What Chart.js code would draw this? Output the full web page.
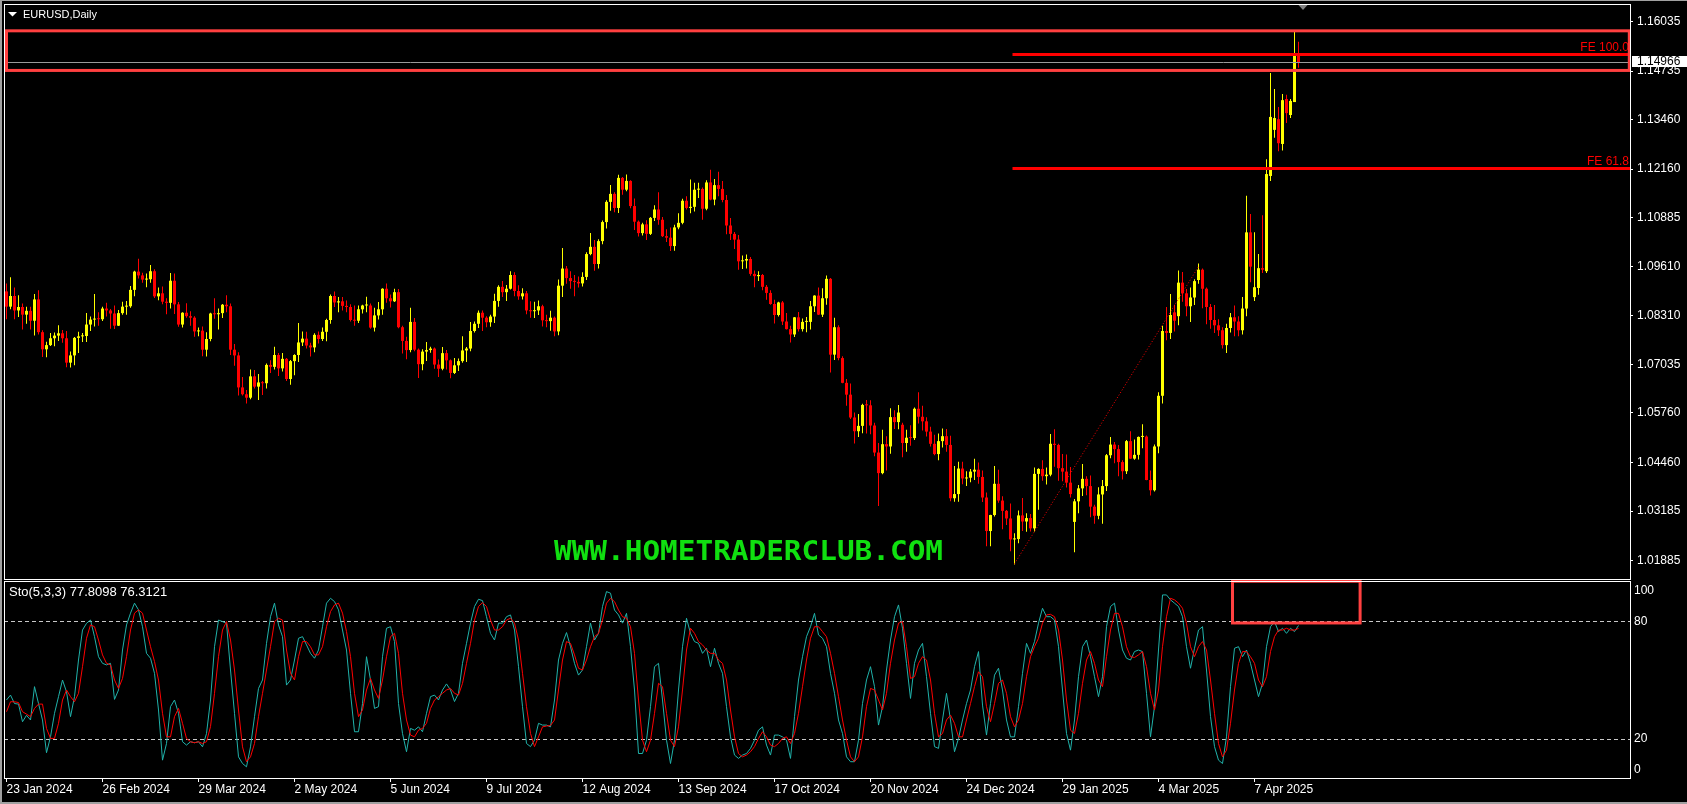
<!DOCTYPE html>
<html>
<head>
<meta charset="utf-8">
<title>EURUSD, Daily</title>
<script src="https://cdn.jsdelivr.net/npm/chart.js@4.4.1/dist/chart.umd.min.js"></script>
<style>
  html, body { margin: 0; padding: 0; background: #000; overflow: hidden; }
  #wrap { position: relative; width: 1687px; height: 804px; background: #000; }
  #mainChart { position: absolute; left: 0; top: 0; }
  #stoChart { position: absolute; left: 0; top: 580px; }
  .edge { position: absolute; background: #a0a0a0; }
</style>
</head>
<body>
<div id="wrap">
  <canvas id="mainChart" width="1687" height="580"></canvas>
  <canvas id="stoChart" width="1687" height="224"></canvas>
  <div class="edge" style="left:0;top:0;width:1687px;height:1px"></div>
  <div class="edge" style="left:0;top:0;width:2px;height:804px"></div>
  <div class="edge" style="left:0;top:802px;width:1687px;height:2px"></div>
</div>
<script>
// EURUSD daily candles, 23 Jan 2024 .. 22 Apr 2025 (index 0 = 23 Jan 2024)
const OPEN = [
  1.0895,1.0855,1.0883,1.0845,1.0854,1.0834,1.0844,1.0818,1.0874,1.0788,
  1.0743,1.0754,1.0772,1.0779,1.0785,1.0772,1.0708,1.0727,1.0773,1.0777,
  1.0778,1.0808,1.0821,1.0823,1.0822,1.0850,1.0845,1.0837,1.0805,1.0838,
  1.0855,1.0856,1.0899,1.0947,1.0937,1.0926,1.0927,1.0948,1.0882,1.0890,
  1.0868,1.0865,1.0923,1.0861,1.0808,1.0839,1.0830,1.0826,1.0790,1.0792,
  1.0742,1.0770,1.0837,1.0835,1.0838,1.0860,1.0856,1.0742,1.0727,1.0643,
  1.0625,1.0616,1.0672,1.0645,1.0656,1.0654,1.0702,1.0697,1.0728,1.0693,
  1.0718,1.0665,1.0712,1.0728,1.0761,1.0771,1.0753,1.0748,1.0781,1.0770,
  1.0789,1.0820,1.0883,1.0866,1.0869,1.0857,1.0854,1.0820,1.0818,1.0848,
  1.0858,1.0858,1.0800,1.0832,1.0848,1.0902,1.0877,1.0869,1.0893,1.0801,
  1.0765,1.0741,1.0815,1.0742,1.0704,1.0737,1.0741,1.0745,1.0703,1.0692,
  1.0733,1.0714,1.0681,1.0701,1.0712,1.0740,1.0745,1.0791,1.0810,1.0839,
  1.0826,1.0814,1.0829,1.0870,1.0907,1.0893,1.0902,1.0938,1.0896,1.0882,
  1.0890,1.0845,1.0843,1.0845,1.0856,1.0819,1.0817,1.0826,1.0790,1.0910,
  1.0955,1.0930,1.0922,1.0920,1.0916,1.0933,1.0993,1.1012,1.0967,1.1027,
  1.1077,1.1130,1.1151,1.1114,1.1193,1.1162,1.1185,1.1119,1.1078,1.1048,
  1.1071,1.1046,1.1088,1.1110,1.1083,1.1040,1.1036,1.1014,1.1063,1.1075,
  1.1133,1.1114,1.1117,1.1162,1.1164,1.1112,1.1181,1.1136,1.1174,1.1164,
  1.1135,1.1068,1.1046,1.1031,1.0974,1.0976,1.0980,1.0941,1.0935,1.0938,
  1.0907,1.0891,1.0862,1.0833,1.0866,1.0816,1.0796,1.0782,1.0827,1.0796,
  1.0815,1.0815,1.0856,1.0884,1.0834,1.0877,1.0928,1.0729,1.0801,1.0720,
  1.0655,1.0624,1.0564,1.0528,1.0542,1.0597,1.0596,1.0543,1.0472,1.0418,
  1.0494,1.0488,1.0565,1.0552,1.0545,1.0497,1.0511,1.0510,1.0587,1.0566,
  1.0554,1.0527,1.0495,1.0468,1.0502,1.0515,1.0492,1.0352,1.0363,1.0430,
  1.0404,1.0406,1.0422,1.0427,1.0408,1.0354,1.0266,1.0308,1.0390,1.0346,
  1.0319,1.0299,1.0244,1.0245,1.0307,1.0291,1.0300,1.0273,1.0416,1.0429,
  1.0410,1.0414,1.0495,1.0492,1.0431,1.0422,1.0393,1.0290,1.0344,1.0378,
  1.0403,1.0384,1.0330,1.0306,1.0362,1.0384,1.0465,1.0493,1.0481,1.0447,
  1.0423,1.0502,1.0456,1.0466,1.0513,1.0514,1.0400,1.0373,1.0488,1.0621,
  1.0791,1.0786,1.0840,1.0830,1.0918,1.0890,1.0856,1.0879,1.0925,1.0952,
  1.0902,1.0854,1.0820,1.0806,1.0793,1.0754,1.0799,1.0827,1.0816,1.0793,
  1.0850,1.1050,1.0880,1.0904,1.0956,1.0948,1.1198,1.1319,1.1347,1.1282,
  1.1400,1.1358,1.1392,1.1515
];
const HIGH = [
  1.0916,1.0932,1.0905,1.0885,1.0863,1.0855,1.0855,1.0888,1.0898,1.0793,
  1.0763,1.0786,1.0787,1.0806,1.0794,1.0791,1.0737,1.0775,1.0789,1.0786,
  1.0838,1.0829,1.0888,1.0840,1.0855,1.0865,1.0849,1.0858,1.0846,1.0868,
  1.0870,1.0909,1.0949,1.0981,1.0944,1.0942,1.0964,1.0953,1.0905,1.0908,
  1.0877,1.0943,1.0942,1.0867,1.0840,1.0864,1.0843,1.0830,1.0800,1.0803,
  1.0788,1.0839,1.0877,1.0850,1.0862,1.0885,1.0863,1.0757,1.0735,1.0670,
  1.0636,1.0690,1.0689,1.0678,1.0660,1.0706,1.0714,1.0750,1.0733,1.0733,
  1.0720,1.0715,1.0730,1.0812,1.0790,1.0789,1.0760,1.0785,1.0790,1.0800,
  1.0823,1.0887,1.0895,1.0880,1.0880,1.0871,1.0861,1.0858,1.0858,1.0860,
  1.0881,1.0863,1.0852,1.0867,1.0903,1.0916,1.0887,1.0902,1.0901,1.0805,
  1.0776,1.0852,1.0825,1.0745,1.0743,1.0762,1.0750,1.0748,1.0716,1.0749,
  1.0741,1.0716,1.0720,1.0719,1.0777,1.0749,1.0815,1.0816,1.0845,1.0845,
  1.0830,1.0834,1.0889,1.0911,1.0922,1.0912,1.0948,1.0945,1.0911,1.0903,
  1.0896,1.0869,1.0868,1.0871,1.0860,1.0834,1.0844,1.0829,1.0926,1.1009,
  1.0962,1.0948,1.0938,1.0934,1.0945,1.0998,1.1048,1.1030,1.1032,1.1081,
  1.1134,1.1174,1.1155,1.1201,1.1195,1.1202,1.1187,1.1139,1.1081,1.1075,
  1.1082,1.1090,1.1121,1.1155,1.1090,1.1058,1.1063,1.1070,1.1100,1.1138,
  1.1145,1.1189,1.1180,1.1180,1.1168,1.1187,1.1214,1.1190,1.1209,1.1185,
  1.1148,1.1088,1.1051,1.1043,1.0989,1.0992,1.0985,1.0950,1.0948,1.0941,
  1.0912,1.0898,1.0873,1.0868,1.0870,1.0838,1.0805,1.0828,1.0841,1.0824,
  1.0828,1.0870,1.0885,1.0905,1.0903,1.0937,1.0930,1.0826,1.0806,1.0725,
  1.0665,1.0653,1.0577,1.0573,1.0600,1.0610,1.0609,1.0550,1.0497,1.0532,
  1.0515,1.0588,1.0583,1.0597,1.0550,1.0532,1.0544,1.0590,1.0630,1.0595,
  1.0565,1.0540,1.0519,1.0522,1.0535,1.0534,1.0516,1.0437,1.0448,1.0448,
  1.0423,1.0429,1.0456,1.0446,1.0425,1.0367,1.0309,1.0437,1.0427,1.0357,
  1.0321,1.0338,1.0260,1.0320,1.0353,1.0313,1.0311,1.0433,1.0431,1.0452,
  1.0433,1.0521,1.0533,1.0495,1.0468,1.0467,1.0434,1.0350,1.0387,1.0442,
  1.0410,1.0412,1.0335,1.0381,1.0400,1.0468,1.0513,1.0500,1.0492,1.0452,
  1.0505,1.0528,1.0506,1.0514,1.0546,1.0517,1.0425,1.0493,1.0630,1.0805,
  1.0854,1.0888,1.0860,1.0950,1.0946,1.0901,1.0905,1.0927,1.0968,1.0955,
  1.0905,1.0862,1.0859,1.0822,1.0801,1.0810,1.0838,1.0858,1.0830,1.0880,
  1.1146,1.1098,1.1050,1.0993,1.1095,1.1242,1.1468,1.1426,1.1379,1.1413,
  1.1411,1.1400,1.1576,1.1550
];
const LOW = [
  1.0822,1.0848,1.0822,1.0828,1.0795,1.0810,1.0795,1.0779,1.0782,1.0723,
  1.0722,1.0752,1.0751,1.0765,1.0760,1.0696,1.0695,1.0701,1.0733,1.0762,
  1.0762,1.0791,1.0803,1.0805,1.0817,1.0829,1.0797,1.0796,1.0804,1.0834,
  1.0834,1.0852,1.0882,1.0929,1.0918,1.0906,1.0918,1.0878,1.0872,1.0861,
  1.0835,1.0850,1.0836,1.0802,1.0800,1.0826,1.0805,1.0776,1.0777,1.0725,
  1.0724,1.0764,1.0823,1.0795,1.0825,1.0840,1.0728,1.0700,1.0622,1.0622,
  1.0601,1.0612,1.0640,1.0610,1.0623,1.0640,1.0681,1.0690,1.0673,1.0685,
  1.0660,1.0650,1.0675,1.0710,1.0752,1.0745,1.0724,1.0735,1.0758,1.0765,
  1.0764,1.0810,1.0854,1.0840,1.0845,1.0840,1.0816,1.0805,1.0812,1.0837,
  1.0840,1.0797,1.0790,1.0821,1.0834,1.0865,1.0853,1.0867,1.0798,1.0732,
  1.0717,1.0735,1.0738,1.0668,1.0688,1.0712,1.0734,1.0692,1.0670,1.0688,
  1.0690,1.0667,1.0678,1.0686,1.0708,1.0710,1.0738,1.0787,1.0799,1.0791,
  1.0801,1.0802,1.0812,1.0855,1.0880,1.0870,1.0900,1.0882,1.0873,1.0874,
  1.0835,1.0826,1.0825,1.0833,1.0803,1.0801,1.0792,1.0777,1.0780,1.0880,
  1.0915,1.0902,1.0882,1.0905,1.0908,1.0925,1.0990,1.0949,1.0955,1.1019,
  1.1060,1.1107,1.1103,1.1101,1.1149,1.1158,1.1113,1.1056,1.1039,1.1042,
  1.1030,1.1043,1.1080,1.1070,1.1038,1.1025,1.1001,1.1002,1.1058,1.1071,
  1.1110,1.1100,1.1105,1.1140,1.1083,1.1108,1.1134,1.1121,1.1145,1.1129,
  1.1045,1.1030,1.1006,1.0952,1.0954,1.0955,1.0936,1.0906,1.0922,1.0898,
  1.0873,1.0860,1.0811,1.0829,1.0807,1.0795,1.0761,1.0775,1.0790,1.0790,
  1.0788,1.0795,1.0841,1.0833,1.0828,1.0860,1.0682,1.0715,1.0714,1.0654,
  1.0595,1.0560,1.0496,1.0513,1.0523,1.0522,1.0520,1.0462,1.0332,1.0415,
  1.0425,1.0469,1.0534,1.0533,1.0460,1.0474,1.0490,1.0505,1.0548,1.0530,
  1.0514,1.0488,1.0465,1.0452,1.0485,1.0474,1.0344,1.0343,1.0343,1.0389,
  1.0384,1.0394,1.0400,1.0390,1.0342,1.0226,1.0226,1.0304,1.0340,1.0271,
  1.0282,1.0213,1.0178,1.0234,1.0266,1.0264,1.0265,1.0265,1.0322,1.0398,
  1.0388,1.0410,1.0435,1.0398,1.0397,1.0380,1.0354,1.0210,1.0313,1.0358,
  1.0360,1.0302,1.0285,1.0297,1.0285,1.0371,1.0457,1.0444,1.0410,1.0401,
  1.0416,1.0455,1.0453,1.0454,1.0483,1.0399,1.0359,1.0370,1.0470,1.0601,
  1.0767,1.0770,1.0790,1.0806,1.0868,1.0830,1.0815,1.0859,1.0915,1.0851,
  1.0809,1.0797,1.0786,1.0778,1.0745,1.0733,1.0787,1.0777,1.0777,1.0782,
  1.0830,1.0919,1.0870,1.0886,1.0943,1.0943,1.1185,1.1298,1.1263,1.1265,
  1.1337,1.1350,1.1392,1.1482
];
const CLOSE = [
  1.0855,1.0883,1.0845,1.0854,1.0834,1.0844,1.0818,1.0874,1.0788,1.0743,
  1.0754,1.0772,1.0779,1.0785,1.0772,1.0708,1.0727,1.0773,1.0777,1.0778,
  1.0808,1.0821,1.0823,1.0822,1.0850,1.0845,1.0837,1.0805,1.0838,1.0855,
  1.0856,1.0899,1.0947,1.0937,1.0926,1.0927,1.0948,1.0882,1.0890,1.0868,
  1.0865,1.0923,1.0861,1.0808,1.0839,1.0830,1.0826,1.0790,1.0792,1.0742,
  1.0770,1.0837,1.0835,1.0838,1.0860,1.0856,1.0742,1.0727,1.0643,1.0625,
  1.0616,1.0672,1.0645,1.0656,1.0654,1.0702,1.0697,1.0728,1.0693,1.0718,
  1.0665,1.0712,1.0728,1.0761,1.0771,1.0753,1.0748,1.0781,1.0770,1.0789,
  1.0820,1.0883,1.0866,1.0869,1.0857,1.0854,1.0820,1.0818,1.0848,1.0858,
  1.0858,1.0800,1.0832,1.0848,1.0902,1.0877,1.0869,1.0893,1.0801,1.0765,
  1.0741,1.0815,1.0742,1.0704,1.0737,1.0741,1.0745,1.0703,1.0692,1.0733,
  1.0714,1.0681,1.0701,1.0712,1.0740,1.0745,1.0791,1.0810,1.0839,1.0826,
  1.0814,1.0829,1.0870,1.0907,1.0893,1.0902,1.0938,1.0896,1.0882,1.0890,
  1.0845,1.0843,1.0845,1.0856,1.0819,1.0817,1.0826,1.0790,1.0910,1.0955,
  1.0930,1.0922,1.0920,1.0916,1.0933,1.0993,1.1012,1.0967,1.1027,1.1077,
  1.1130,1.1151,1.1114,1.1193,1.1162,1.1185,1.1119,1.1078,1.1048,1.1071,
  1.1046,1.1088,1.1110,1.1083,1.1040,1.1036,1.1014,1.1063,1.1075,1.1133,
  1.1114,1.1117,1.1162,1.1164,1.1112,1.1181,1.1136,1.1174,1.1164,1.1135,
  1.1068,1.1046,1.1031,1.0974,1.0976,1.0980,1.0941,1.0935,1.0938,1.0907,
  1.0891,1.0862,1.0833,1.0866,1.0816,1.0796,1.0782,1.0827,1.0796,1.0815,
  1.0815,1.0856,1.0884,1.0834,1.0877,1.0928,1.0729,1.0801,1.0720,1.0655,
  1.0624,1.0564,1.0528,1.0542,1.0597,1.0596,1.0543,1.0472,1.0418,1.0494,
  1.0488,1.0565,1.0552,1.0577,1.0497,1.0511,1.0510,1.0587,1.0566,1.0554,
  1.0527,1.0495,1.0468,1.0502,1.0515,1.0492,1.0352,1.0363,1.0430,1.0404,
  1.0406,1.0422,1.0427,1.0408,1.0354,1.0266,1.0308,1.0390,1.0346,1.0319,
  1.0299,1.0244,1.0245,1.0307,1.0291,1.0300,1.0273,1.0416,1.0429,1.0410,
  1.0414,1.0495,1.0492,1.0431,1.0422,1.0393,1.0363,1.0344,1.0378,1.0403,
  1.0384,1.0330,1.0306,1.0362,1.0384,1.0465,1.0493,1.0481,1.0447,1.0423,
  1.0502,1.0456,1.0466,1.0513,1.0514,1.0400,1.0373,1.0488,1.0621,1.0791,
  1.0786,1.0833,1.0818,1.0918,1.0890,1.0856,1.0879,1.0922,1.0952,1.0902,
  1.0854,1.0820,1.0806,1.0793,1.0754,1.0799,1.0827,1.0816,1.0793,1.0850,
  1.1050,1.0960,1.0906,1.0956,1.0952,1.1203,1.1353,1.1350,1.1284,1.1397,
  1.1363,1.1395,1.1513,1.1497
];

// Stochastic(5,3,3): main (%K) and signal (%D)
const STO_K = [
  39.8,42.3,38,37.7,28.7,32,29.6,46.6,38,29.6,
  12.9,21,33,41.5,50,44,31.3,41.5,60.2,75.5,
  78.9,80.6,72.1,61.9,58.5,57.7,58.5,40.1,44.9,65.3,
  78.1,84.1,89.2,85.8,77.2,63.6,61.1,53.4,34.7,9.1,
  17.6,36.4,39.8,33,18.5,16.8,18.5,18,18.5,15.9,
  22.7,39.8,67,80.6,79.8,78.9,55.1,33,10.8,7.4,
  5.7,15.9,31.3,45.7,50,68.7,82.3,89.2,78.1,72.1,
  47.4,50,60.2,71.3,72.1,67.9,63.6,61.1,65.3,77.2,
  89.2,91.7,90,85.8,75.5,65.3,43.2,23.6,23.6,38,
  61.9,50,35.5,36.4,61.9,76.4,77.2,69.6,38,22.7,
  13.4,25.3,24.4,26.1,23.6,33,41.5,42.3,39.8,44.9,
  48,44.9,39,43.2,58.5,68.7,79,87.5,91.2,90.5,
  82.3,73.8,70.4,79,79,82.3,83.2,75.5,56.8,36.4,
  17.6,16,19.3,27.9,27,27,26.1,39.8,60.2,68.7,
  74.2,67,58.5,52.5,55.1,67,79,70.4,73.8,87.5,
  95.1,94.3,85.7,83.2,79,84,67,44.9,12.5,12.5,
  19.3,36.4,56.8,58.5,39.8,19.3,7.4,19.3,44.9,67,
  81.5,73.8,69.6,68.7,63.6,66.2,56.8,66.2,58.5,53.4,
  36.4,21,11.7,10,11.7,12.5,15.1,19.3,24.4,26.1,
  16.8,11.7,21.9,21.9,21,19.3,10,31.3,50,61.9,
  72.1,77.2,84,73,71.3,67,53.4,43.2,29.6,22.7,
  10.8,8.3,8.3,19.3,38,50,56.8,46.6,27,36.4,
  55.1,70.4,82.3,88.3,76.4,58.5,40.6,58.5,65.3,68.7,
  51.7,33,16,15.1,29.6,43.2,29.6,13.4,20.2,29.6,
  38,44.9,56.8,64.5,37.2,21.9,38,52.5,56,44.9,
  29.6,21,21,36.4,53.4,68.7,63.6,69.6,79,86.6,
  82.3,82.3,80.6,67,44.9,22.7,14.2,29.6,51.7,67,
  70.4,61.9,51.7,41.5,51.7,77.2,87.5,89.2,75.5,65.3,
  61.1,60.2,64.5,65.3,64.5,43.2,21,36.4,65.3,93.4,
  93.4,90.9,89.2,87.5,82.3,67,56,66.2,75.5,77.2,
  55.1,31.3,16,9.1,7.4,21,46.6,66.2,67,61.9,
  65.3,58.5,50,41.5,48.3,67,77.2,79.8,74.7,76.4,
  73.8,76.4,74.7,77.8098
];
const STO_D = [
  33.8,38.9,38.9,38.5,33.8,32.6,31.3,35.5,37.7,37.7,
  25.3,20.2,20.2,27.9,39.8,44.9,41.5,38.9,43.2,56.8,
  71.3,78.1,77.2,70.4,62.8,58.5,57.7,50,45.7,50.8,
  61.9,75.5,84.1,85.8,84.1,75.5,67,59.4,50,33,
  21,21,31.3,35.5,27.9,20.2,18.5,18,18.5,17.6,
  18.5,26.2,43.2,61.9,75.5,79.8,70.4,55.1,34.7,15.9,
  8.3,10.8,17.6,31.3,43.2,55.1,67,79.8,81.5,80.6,
  65.3,53.4,50,61.9,69.6,69.6,67,62.8,62.8,67,
  77.2,84.9,88.3,89.2,84.1,74.7,61.9,43.2,31.3,34.7,
  44.9,50.8,44.9,40.6,50,61.9,72.1,73.8,63.6,43.2,
  29.6,21.9,21,24.4,25.3,27.9,35.5,39.8,41.5,43.2,
  44.9,45.7,43.2,42.3,48.3,58.5,68.7,80.6,87.5,89.5,
  87.5,80.6,75.5,75.5,77.2,80.6,81.5,79,70.4,53.4,
  36.4,22.7,16,21,26.1,26.5,26.8,29.6,44.9,60.2,
  69.6,68.7,62.8,56,55.1,60.2,67,72.1,73.8,80.6,
  89.2,91.7,90,85.7,82.3,81.5,77.2,63.6,39.8,19.3,
  13.4,19.3,33,48.3,46.6,33,19.3,16,26.1,44.9,
  65.3,76.4,73.8,69.6,67.9,65.3,63.6,63.6,60.2,58.5,
  50,34.7,21,12.5,10.8,11.7,13.4,16,20.2,23.6,
  21,16.8,16,17.6,20.2,21,17.6,22.7,33,46.6,
  60.2,71.3,77.2,77.2,74.7,72.1,63.6,53.4,41.5,29.6,
  19.3,10.8,8.3,10.8,21,36.4,45.7,44.9,39.8,34.7,
  43.2,58.5,70.4,79,79.8,67,50.8,51.7,58.5,61.9,
  60.2,50,33,21,22.7,29.6,32.1,27.9,21,21,
  29.6,38,46.6,54.2,51.7,36.4,28.7,38,48.3,50,
  43.2,31.3,26.1,29.6,38,51.7,61.9,67,71.3,79,
  83.2,83.5,82.3,75.5,60.2,39.8,24.4,22.7,33,48.3,
  60.2,64.5,58.5,50,46.6,61.9,75.5,84,84,77.2,
  67,61.9,61.5,62.8,64.5,56.8,43.2,34.7,44.9,67,
  82.3,91.7,90.9,89.2,86.6,78.9,67,61.9,67,69.6,
  65.3,50,33,17.6,10.8,14.2,27.9,44.9,58.5,64.5,
  64.5,61.9,58.5,50,46.6,51.7,64.5,72.1,75.5,75.5,
  76.4,75.5,75.5,76.3121
];

const PRICE_TICKS = [1.16035, 1.14735, 1.13460, 1.12160, 1.10885, 1.09610, 1.08310,
                     1.07035, 1.05760, 1.04460, 1.03185, 1.01885];
const DATE_INDEX = [0, 24, 48, 72, 96, 120, 144, 168, 192, 216, 240, 264, 288, 312];
const DATE_LABELS = ['23 Jan 2024', '26 Feb 2024', '29 Mar 2024', '2 May 2024', '5 Jun 2024',
                     '9 Jul 2024', '12 Aug 2024', '13 Sep 2024', '17 Oct 2024', '20 Nov 2024',
                     '24 Dec 2024', '29 Jan 2025', '4 Mar 2025', '7 Apr 2025'];
const STO_TICKS = [100, 80, 20, 0];
const STO_LEVELS = [80, 20];
const LAST_PRICE = 1.14966;
const FE_LABELS = ['FE 100.0', 'FE 61.8'];
const FE_VALUES = [1.15182, 1.12189];
const FE_FROM = 251.5;
const FIB_X = [252, 298];
const FIB_Y = [1.0180, 1.0960];
const ZONE_X = [0, 405.7];
const ZONE_Y = [1.1579, 1.1475];
const STO_ZONE_X = [306.5, 338.4];
const STO_ZONE_Y = [100.4, 79.1];

const X_MIN = -0.625, X_MAX = 405.875;
const Y_MIN = 1.01401, Y_MAX = 1.16494;
const FONT = '"Liberation Sans", Arial, sans-serif';

Chart.defaults.font.family = FONT;
Chart.defaults.color = '#fff';

const candleColors = CLOSE.map((c, i) => (c >= OPEN[i] ? '#ffff00' : '#ff0000'));
const wickData = LOW.map((l, i) => ({ x: i, y: [l, HIGH[i]] }));
const bodyData = OPEN.map((o, i) => ({ x: i, y: [o, CLOSE[i]] }));

function hline(ctx, x0, x1, y) {
  ctx.beginPath();
  ctx.moveTo(x0, y);
  ctx.lineTo(x1, y);
  ctx.stroke();
}

const mainOverlay = {
  id: 'mainOverlay',
  afterDatasetsDraw(chart) {
    const { ctx, chartArea: a, scales: { x, y } } = chart;
    ctx.save();

    // bid line
    ctx.strokeStyle = '#9a9a9a';
    ctx.lineWidth = 1;
    hline(ctx, a.left, a.right, Math.round(y.getPixelForValue(LAST_PRICE)) + 0.5);

    // fibo expansion base (dotted)
    ctx.strokeStyle = '#ff0000';
    ctx.setLineDash([1, 2]);
    ctx.beginPath();
    ctx.moveTo(x.getPixelForValue(FIB_X[0]), y.getPixelForValue(FIB_Y[0]));
    ctx.lineTo(x.getPixelForValue(FIB_X[1]), y.getPixelForValue(FIB_Y[1]));
    ctx.stroke();
    ctx.setLineDash([]);

    // FE levels
    ctx.lineWidth = 3;
    ctx.font = '12px ' + FONT;
    ctx.textAlign = 'right';
    ctx.textBaseline = 'middle';
    FE_VALUES.forEach((v, i) => {
      const py = Math.round(y.getPixelForValue(v));
      ctx.strokeStyle = '#ff0000';
      hline(ctx, x.getPixelForValue(FE_FROM), a.right, py + 0.5);
      ctx.fillStyle = '#ff0000';
      ctx.fillText(FE_LABELS[i], a.right - 1, py - 6);
    });

    // zone rectangle
    ctx.strokeStyle = '#ff4040';
    ctx.lineWidth = 3;
    const zx0 = x.getPixelForValue(ZONE_X[0]), zx1 = x.getPixelForValue(ZONE_X[1]);
    const zy0 = y.getPixelForValue(ZONE_Y[0]), zy1 = y.getPixelForValue(ZONE_Y[1]);
    ctx.strokeRect(zx0, zy0, zx1 - zx0, zy1 - zy0);

    // watermark
    ctx.fillStyle = '#10e010';
    ctx.font = 'bold 27px "DejaVu Sans Mono", monospace';
    ctx.textAlign = 'center';
    const wm = 'WWW.HOMETRADERCLUB.COM';
    const sx = 389 / ctx.measureText(wm).width;
    ctx.translate(748.5, 552);
    ctx.scale(sx, 1);
    ctx.fillText(wm, 0, 1);
    ctx.restore();
  },
  afterDraw(chart) {
    const { ctx, chartArea: a, scales: { y } } = chart;
    ctx.save();
    // panel frame
    ctx.strokeStyle = '#ffffff';
    ctx.lineWidth = 1;
    ctx.strokeRect(a.left + 0.5, a.top + 0.5, a.right - a.left, a.bottom - a.top);

    // title
    ctx.fillStyle = '#ffffff';
    ctx.beginPath();
    ctx.moveTo(8, 12); ctx.lineTo(17, 12); ctx.lineTo(12.5, 16.5); ctx.closePath();
    ctx.fill();
    ctx.font = '11px ' + FONT;
    ctx.textAlign = 'left';
    ctx.textBaseline = 'middle';
    ctx.fillText('EURUSD,Daily', 23, 15);

    // chart shift marker
    ctx.fillStyle = '#808080';
    ctx.beginPath();
    ctx.moveTo(1298.5, 5); ctx.lineTo(1307.5, 5); ctx.lineTo(1303, 10); ctx.closePath();
    ctx.fill();

    // bid price label
    const py = Math.round(y.getPixelForValue(LAST_PRICE));
    ctx.fillStyle = '#ffffff';
    ctx.fillRect(a.right + 2, py - 6, 60, 11);
    ctx.fillStyle = '#000000';
    ctx.font = '12px ' + FONT;
    ctx.fillText(LAST_PRICE.toFixed(5), a.right + 7, py);
    ctx.restore();
  }
};

new Chart(document.getElementById('mainChart'), {
  type: 'bar',
  data: {
    datasets: [
      { label: 'wick', data: wickData, backgroundColor: candleColors, grouped: false,
        categoryPercentage: 1, barPercentage: 1, maxBarThickness: 1, inflateAmount: 0, order: 2 },
      { label: 'body', data: bodyData, backgroundColor: candleColors, grouped: false,
        categoryPercentage: 1, barPercentage: 1, maxBarThickness: 3, inflateAmount: 0,
        minBarLength: 1, order: 1 }
    ]
  },
  options: {
    responsive: false,
    animation: false,
    devicePixelRatio: 1,
    events: [],
    layout: { padding: { left: 4, top: 4, right: 0, bottom: 1 } },
    plugins: { legend: { display: false }, tooltip: { enabled: false } },
    scales: {
      x: { type: 'linear', min: X_MIN, max: X_MAX, offset: false, display: false },
      y: {
        position: 'right',
        min: Y_MIN,
        max: Y_MAX,
        beginAtZero: false,
        afterBuildTicks: (s) => { s.ticks = PRICE_TICKS.map(v => ({ value: v })); },
        afterFit: (s) => { s.width = 57; s.paddingTop = 0; s.paddingBottom = 0; },
        ticks: { color: '#ffffff', font: { size: 12 }, padding: 4, autoSkip: false,
                 callback: (v) => Number(v).toFixed(5) },
        grid: { drawOnChartArea: false, drawTicks: true, tickLength: 3, color: '#ffffff' },
        border: { display: true, color: '#ffffff' }
      }
    }
  },
  plugins: [mainOverlay]
});

const stoOverlay = {
  id: 'stoOverlay',
  beforeDatasetsDraw(chart) {
    const { ctx, chartArea: a, scales: { y } } = chart;
    ctx.save();
    ctx.strokeStyle = '#c8c8c8';
    ctx.lineWidth = 1;
    ctx.setLineDash([4, 3]);
    STO_LEVELS.forEach(v => hline(ctx, a.left, a.right, Math.round(y.getPixelForValue(v)) + 0.5));
    ctx.restore();
  },
  afterDatasetsDraw(chart) {
    const { ctx, scales: { x, y } } = chart;
    ctx.save();
    ctx.strokeStyle = '#ff4040';
    ctx.lineWidth = 3;
    const x0 = x.getPixelForValue(STO_ZONE_X[0]), x1 = x.getPixelForValue(STO_ZONE_X[1]);
    const y0 = y.getPixelForValue(STO_ZONE_Y[0]), y1 = y.getPixelForValue(STO_ZONE_Y[1]);
    ctx.strokeRect(x0, y0, x1 - x0, y1 - y0);
    ctx.restore();
  },
  afterDraw(chart) {
    const { ctx, chartArea: a, scales: { y } } = chart;
    ctx.save();
    ctx.strokeStyle = '#ffffff';
    ctx.lineWidth = 1;
    ctx.strokeRect(a.left + 0.5, a.top - 0.5, a.right - a.left, a.bottom - a.top + 1);

    ctx.fillStyle = '#ffffff';
    ctx.font = '13px ' + FONT;
    ctx.textAlign = 'left';
    ctx.textBaseline = 'middle';
    ctx.fillText('Sto(5,3,3) ' + STO_K[STO_K.length - 1].toFixed(4) + ' ' +
                 STO_D[STO_D.length - 1].toFixed(4), 9, 12.5);

    ctx.font = '12px ' + FONT;
    STO_TICKS.forEach(v => {
      let py = y.getPixelForValue(v);
      if (v === 100) py += 9;
      if (v === 0) py -= 8;
      ctx.fillText(String(v), a.right + 4, py);
    });
    ctx.restore();
  }
};

new Chart(document.getElementById('stoChart'), {
  type: 'line',
  data: {
    datasets: [
      { label: 'Main', data: STO_K.map((v, i) => ({ x: i, y: v })), borderColor: '#20b2aa',
        borderWidth: 1, pointRadius: 0, tension: 0, fill: false, order: 2 },
      { label: 'Signal', data: STO_D.map((v, i) => ({ x: i, y: v })), borderColor: '#ff0000',
        borderWidth: 1, pointRadius: 0, tension: 0, fill: false, order: 1 }
    ]
  },
  options: {
    responsive: false,
    animation: false,
    devicePixelRatio: 1,
    events: [],
    layout: { padding: { left: 4, top: 2, right: 0, bottom: 0 } },
    plugins: { legend: { display: false }, tooltip: { enabled: false } },
    scales: {
      x: {
        type: 'linear', min: X_MIN, max: X_MAX, offset: false,
        afterBuildTicks: (s) => { s.ticks = DATE_INDEX.map(v => ({ value: v })); },
        afterFit: (s) => { s.height = 26; s.paddingLeft = 0; s.paddingRight = 0; },
        ticks: { color: '#ffffff', font: { size: 12 }, align: 'start', padding: 0,
                 autoSkip: false, maxRotation: 0, minRotation: 0,
                 callback: (v) => DATE_LABELS[DATE_INDEX.indexOf(v)] },
        grid: { drawOnChartArea: false, drawTicks: true, tickLength: 4, color: '#ffffff' },
        border: { display: true, color: '#ffffff' }
      },
      y: {
        position: 'right', min: 0, max: 100,
        afterFit: (s) => { s.width = 57; s.paddingTop = 0; s.paddingBottom = 0; },
        ticks: { display: false },
        grid: { display: false },
        border: { display: true, color: '#ffffff' }
      }
    }
  },
  plugins: [stoOverlay]
});
</script>
</body>
</html>
